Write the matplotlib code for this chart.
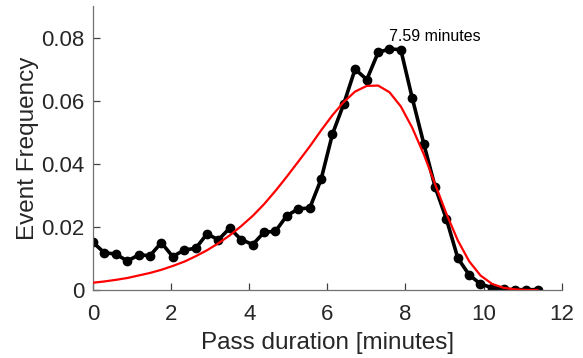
import matplotlib
matplotlib.use("Agg")
import matplotlib.pyplot as plt

plt.rcParams['font.family'] = ['Liberation Sans', 'DejaVu Sans']

# bin centres [minutes]
pass_minutes = [0.00, 0.29, 0.58, 0.88, 1.17, 1.46, 1.75, 2.04, 2.34, 2.63,
                2.92, 3.21, 3.50, 3.79, 4.09, 4.38, 4.67, 4.96, 5.25, 5.55,
                5.84, 6.13, 6.42, 6.71, 7.01, 7.30, 7.59, 7.88, 8.17, 8.47,
                8.76, 9.05, 9.34, 9.63, 9.92, 10.22, 10.51, 10.80, 11.09, 11.38]

# measured event frequency
event_freq = [0.0151, 0.0118, 0.0114, 0.0092, 0.0111, 0.0109, 0.0150, 0.0106, 0.0127, 0.0132,
              0.0178, 0.0159, 0.0196, 0.0160, 0.0144, 0.0183, 0.0186, 0.0235, 0.0257, 0.0260,
              0.0351, 0.0494, 0.0590, 0.0700, 0.0667, 0.0753, 0.0764, 0.0762, 0.0610, 0.0463,
              0.0326, 0.0224, 0.0101, 0.0048, 0.0019, 0.0007, 0.0002, 0.0001, 0.0001, 0.0001]

# fitted curve
fit_freq = [0.0023, 0.0027, 0.0032, 0.0038, 0.0046, 0.0054, 0.0064, 0.0076, 0.0090, 0.0107,
            0.0126, 0.0148, 0.0173, 0.0202, 0.0235, 0.0272, 0.0314, 0.0359, 0.0406, 0.0455,
            0.0506, 0.0554, 0.0596, 0.0629, 0.0647, 0.0648, 0.0627, 0.0582, 0.0515, 0.0430,
            0.0335, 0.0241, 0.0157, 0.0091, 0.0046, 0.0019, 0.0007, 0.0002, 0.0000, 0.0000]

peak_label = "7.59 minutes"

fig = plt.figure(figsize=(5.83, 3.58), dpi=100)
ax = fig.add_axes([0.1595, 0.19, 0.804, 0.793])

ax.plot(pass_minutes, event_freq, color="black", lw=2.6, marker="o", ms=6, zorder=2)
ax.plot(pass_minutes, fit_freq, color="red", lw=1.6, zorder=3)

ipk = event_freq.index(max(event_freq))
ax.text(pass_minutes[ipk], event_freq[ipk] + 0.0041, peak_label,
        ha="left", va="center", fontsize=11.5, color="black")

ax.set_xlim(0, 12)
ax.set_ylim(0, 0.09)
ax.set_xticks([0, 2, 4, 6, 8, 10, 12])
ax.set_yticks([0, 0.02, 0.04, 0.06, 0.08])
ax.set_yticklabels(["0", "0.02", "0.04", "0.06", "0.08"])

for s in ["top", "right"]:
    ax.spines[s].set_visible(False)
for s in ["left", "bottom"]:
    ax.spines[s].set_color("#707070")
    ax.spines[s].set_linewidth(0.9)

ax.tick_params(direction="in", length=5, width=0.9, color="#404040",
               labelsize=16, labelcolor="#262626")
ax.tick_params(axis="x", pad=10)
ax.tick_params(axis="y", pad=6)
ax.set_xlabel("Pass duration [minutes]", fontsize=17.5, color="#262626", labelpad=5)
ax.set_ylabel("Event Frequency", fontsize=17.5, color="#262626", labelpad=2)

fig.savefig("out.png", dpi=100)
